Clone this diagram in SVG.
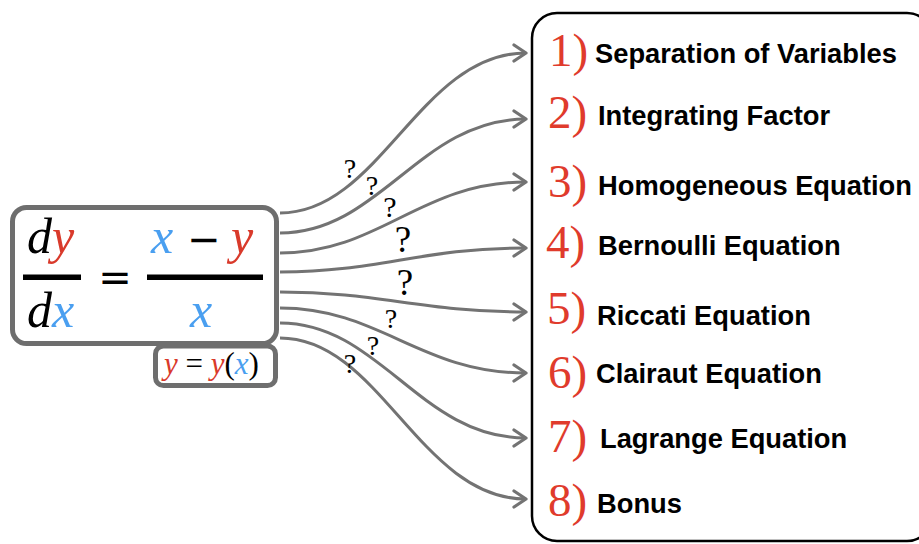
<svg xmlns="http://www.w3.org/2000/svg" width="919" height="544" viewBox="0 0 919 544">
<defs>
<style>
.box{fill:#fff;stroke:#6e6e6e;stroke-width:5}
.m{font-family:"Liberation Serif",serif;font-style:italic;font-size:50px}
.op{font-family:"DejaVu Sans",sans-serif;font-size:40px;fill:#000}
.r{fill:#d93a2b}
.b{fill:#4a9ff0}
.k{fill:#000}
.q{font-family:"Liberation Serif",serif;fill:#000}
.num{font-family:"Liberation Serif",serif;font-size:47px;fill:#e03b2c}
.lab{font-family:"Liberation Sans",Arial,sans-serif;font-weight:bold;font-size:27.3px;fill:#000}
.con{fill:none;stroke:#737373;stroke-width:3;marker-end:url(#arr)}
</style>
<marker id="arr" markerUnits="userSpaceOnUse" markerWidth="20" markerHeight="20" viewBox="-16 -10 20 20" refX="0" refY="0" orient="auto">
<path d="M-12,-8 L0,0 L-12,8" fill="none" stroke="#737373" stroke-width="3.2" stroke-linecap="round" stroke-linejoin="round"/>
</marker>
</defs>
<rect width="919" height="544" fill="#fff"/>

<g id="methods">
<rect x="532" y="13" width="400" height="528" rx="25" fill="#fff" stroke="#000" stroke-width="2.5"/>
<text class="num" x="549" y="66">1)</text><text class="lab" x="595" y="63">Separation of Variables</text>
<text class="num" x="548" y="128">2)</text><text class="lab" x="598" y="125">Integrating Factor</text>
<text class="num" x="548" y="197">3)</text><text class="lab" x="598" y="195">Homogeneous Equation</text>
<text class="num" x="546" y="258">4)</text><text class="lab" x="598" y="255">Bernoulli Equation</text>
<text class="num" x="547" y="324">5)</text><text class="lab" x="597" y="325">Riccati Equation</text>
<text class="num" x="548" y="388">6)</text><text class="lab" x="596" y="383">Clairaut Equation</text>
<text class="num" x="548" y="452">7)</text><text class="lab" x="600" y="448">Lagrange Equation</text>
<text class="num" x="548" y="516">8)</text><text class="lab" x="597" y="513">Bonus</text>
</g>

<g id="connectors">
<path class="con" d="M280 213 C380 213,420 53,526 53"/>
<path class="con" d="M280 233 C380 233,420 119,526 119"/>
<path class="con" d="M280 253 C380 253,420 182,526 182"/>
<path class="con" d="M280 272 C380 272,420 248,526 248"/>
<path class="con" d="M280 292 C380 292,420 312,526 312"/>
<path class="con" d="M280 308 C380 308,420 373,526 373"/>
<path class="con" d="M280 323 C380 323,420 438,526 438"/>
<path class="con" d="M280 338 C380 338,420 499,526 499"/>
<g class="q" text-anchor="middle">
<text x="350" y="178" font-size="28">?</text>
<text x="372" y="195" font-size="28">?</text>
<text x="390" y="217" font-size="30">?</text>
<text x="403" y="252" font-size="37">?</text>
<text x="405" y="295" font-size="37">?</text>
<text x="391" y="328" font-size="28">?</text>
<text x="373" y="355" font-size="28">?</text>
<text x="350" y="373" font-size="28">?</text>
</g>
</g>

<g id="note">
<rect class="box" x="155.5" y="346" width="120" height="39.5" rx="8"/>
<text x="164" y="374" font-family="Liberation Serif,serif" font-size="31"><tspan class="r" font-style="italic">y</tspan><tspan class="k"> = </tspan><tspan class="r" font-style="italic">y</tspan><tspan class="k">(</tspan><tspan class="b" font-style="italic">x</tspan><tspan class="k">)</tspan></text>
</g>

<g id="equation">
<rect class="box" x="12.5" y="207.5" width="264" height="136" rx="14"/>
<text class="m" x="27" y="253"><tspan class="k">d</tspan><tspan class="r">y</tspan></text>
<rect x="23" y="274.5" width="58" height="5.5" fill="#000"/>
<text class="m" x="27" y="327"><tspan class="k">d</tspan><tspan class="b">x</tspan></text>
<text class="op" x="115" y="291" text-anchor="middle">=</text>
<text class="m b" x="151" y="253">x</text>
<text class="op" x="204" y="253" text-anchor="middle">−</text>
<text class="m r" x="231" y="253">y</text>
<rect x="147" y="274.5" width="116" height="5.5" fill="#000"/>
<text class="m b" x="190" y="327">x</text>
</g>
</svg>
